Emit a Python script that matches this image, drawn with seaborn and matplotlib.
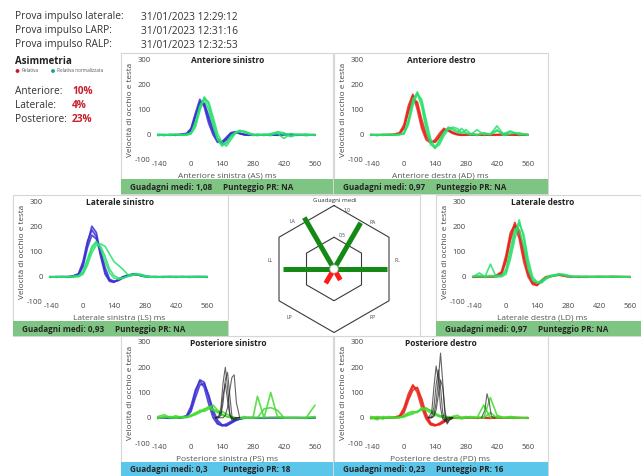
import numpy as np
import pandas as pd
import matplotlib.pyplot as plt
import seaborn as sns
from matplotlib.patches import Rectangle, Circle

sns.set_theme(style="white")
plt.rcParams["font.family"] = ["Open Sans", "DejaVu Sans"]
plt.rcParams["axes.unicode_minus"] = False

# time axis (ms) shared by head / eye traces
t_ms = [-150, -120, -95, -70, -45, -20, 0, 20, 40, 60, 80, 100, 120, 140, 160,
        180, 200, 220, 240, 260, 280, 300, 330, 360, 390, 420, 450, 480, 520, 560]
# time axis (ms) for the saccade spikes
sac_ms = [110, 125, 135, 145, 155, 165, 175, 185, 195, 205, 220]

# Anteriore sinistro
as_head = [
    [0, 0, -2, 0, 0, 2, 15, 70, 130, 120, 60, 10, -25, -30, -15, 5, 10, 5, 0, -2, 0, 0, -2, 0, 0, 0, 0, 0, -2, 0],
    [-2, 0, 0, -2, 2, 5, 25, 85, 140, 110, 45, 0, -30, -28, -10, 8, 12, 5, 0, 0, -2, 0, 0, -2, 0, 2, 0, 0, 0, -2],
    [0, -2, 0, 0, 0, 3, 20, 75, 120, 125, 75, 20, -15, -35, -20, 0, 8, 6, 2, 0, 0, -2, 0, 0, -2, 0, 0, -2, 0, 0],
]
as_eye = [
    [0, -3, 2, 0, -2, 0, 5, 40, 105, 150, 120, 50, -15, -40, -35, -10, 8, 15, 12, 5, 0, -3, 2, 0, 5, -15, 5, 0, -3, 0],
    [-3, 0, 0, 2, 0, -2, 3, 30, 95, 145, 130, 70, 5, -30, -45, -20, 5, 12, 15, 8, 2, 0, -2, 5, 10, 0, -5, 2, 0, -2],
    [2, 0, -2, 0, 0, 2, 8, 50, 115, 140, 100, 35, -20, -45, -30, -5, 10, 18, 10, 3, -2, 2, 0, -3, 12, 8, -8, 0, 2, 0],
]
# Anteriore destro
ad_head = [
    [0, 0, -2, 0, 0, 5, 30, 100, 155, 120, 40, -10, -30, -28, -5, 20, 18, 8, 2, 0, 0, 0, -2, 0, 0, 0, 0, 0, 0, 0],
    [-2, 0, 0, 0, 2, 8, 40, 115, 160, 100, 25, -20, -32, -20, 5, 25, 15, 5, 0, -2, 0, 2, 0, 0, -2, 0, 0, 0, -2, 0],
    [0, -2, 0, 0, 0, 3, 25, 90, 140, 130, 60, 0, -25, -30, -10, 15, 20, 10, 3, 0, -2, 0, 0, -2, 0, 0, 2, 0, 0, 0],
]
ad_eye = [
    [0, -3, 0, 2, 0, 0, 5, 50, 130, 170, 130, 40, -30, -55, -30, 5, 30, 25, 15, 5, 20, 5, 0, 8, 2, 35, 0, 12, 2, 0],
    [-2, 0, 2, 0, -2, 2, 3, 40, 115, 160, 140, 60, -15, -50, -40, -5, 20, 30, 25, 10, 5, 0, 20, 0, 3, 20, -3, 3, 8, -2],
    [2, 0, -2, 0, 2, 0, 8, 60, 140, 165, 110, 20, -40, -50, -20, 10, 28, 20, 8, 25, 8, 2, -2, 5, 0, 15, 5, 15, 0, 2],
]
# Laterale sinistro
ls_head = [
    [0, 0, 0, -2, 2, 10, 50, 130, 200, 175, 90, 20, -15, -20, -12, -2, 5, 8, 10, 5, 2, 0, 0, 0, 0, -2, 0, 0, 0, 0],
    [0, -2, 0, 0, 3, 12, 60, 140, 185, 160, 80, 10, -18, -22, -10, 0, 5, 10, 12, 4, 0, 0, -2, 0, 0, 0, 0, -2, 0, 0],
    [-2, 0, 0, 0, 0, 6, 40, 115, 165, 150, 100, 35, -10, -18, -15, -5, 3, 6, 8, 6, 3, 0, 0, -2, 0, 0, 0, 0, 0, -2],
]
ls_eye = [
    [0, 0, -2, 0, 0, 2, 15, 60, 110, 135, 120, 80, 30, 5, -5, -5, 0, 5, 10, 8, 3, 0, -2, 0, 0, 0, -2, 0, 0, 0],
    [-2, 0, 0, 0, 0, 0, 10, 45, 95, 125, 130, 120, 90, 60, 45, 30, 10, 5, 12, 10, 5, 0, 0, -2, 0, 0, 0, -2, 0, 0],
    [0, -2, 0, 0, 2, 5, 20, 70, 120, 140, 110, 60, 15, -5, -10, -5, 2, 8, 10, 5, 0, -2, 0, 0, 0, -2, 0, 0, 0, 0],
]
# Laterale destro
ld_head = [
    [0, 0, 0, 0, 2, 15, 70, 160, 215, 170, 80, 10, -25, -30, -15, -2, 3, 5, 8, 5, 2, 0, 0, 0, 0, 0, 0, 0, 0, 0],
    [0, 0, -2, 0, 5, 20, 85, 175, 205, 150, 60, 0, -30, -35, -15, 0, 2, 5, 6, 3, 0, 0, 0, -2, 0, 0, 0, 0, 0, 0],
    [-2, 0, 0, 0, 0, 10, 60, 145, 200, 185, 100, 20, -20, -32, -20, -5, 0, 5, 10, 6, 0, 0, -2, 0, 0, 0, 0, 0, 0, -2],
]
ld_eye = [
    [0, 15, 0, 5, 0, 3, 20, 90, 170, 225, 150, 50, -10, -25, -20, -5, 2, 5, 10, 8, 5, 0, 2, 0, -2, 0, 0, 2, 0, 0],
    [0, 5, 0, 50, 0, 0, 10, 70, 150, 210, 170, 70, 0, -20, -25, -10, 0, 3, 8, 10, 5, 2, 0, 0, 0, 2, 0, 0, -2, 0],
    [2, 0, 0, 0, 5, 5, 30, 110, 190, 185, 120, 30, -15, -25, -15, -3, 5, 8, 12, 6, 0, 0, 0, 2, 0, 0, -2, 0, 0, 0],
]
# Posteriore sinistro
ps_head = [
    [0, 0, 0, 0, 0, 5, 35, 100, 150, 140, 80, 15, -20, -32, -30, -20, -10, -5, 0, 0, 0, 0, 0, 0, 0, 0, 0, 0, 0, 0],
    [0, 0, -2, 0, 2, 8, 45, 110, 145, 120, 55, 0, -25, -30, -25, -15, -8, -3, 0, 0, 0, -2, 0, 0, 0, 0, 0, 0, 0, 0],
    [-2, 0, 0, 0, 0, 3, 25, 80, 130, 135, 90, 30, -10, -28, -32, -22, -12, -5, -2, 0, 0, 0, -2, 0, 0, 0, 0, 0, -2, 0],
]
ps_eye = [
    [5, 12, 0, 8, 2, 5, 10, 20, 25, 35, 40, 50, 30, 15, 5, 0, -2, 0, 5, 0, 0, 85, 0, 0, 0, 0, -2, 0, 0, 50],
    [0, 0, 5, 0, 0, 2, 5, 15, 30, 25, 35, 30, 20, 25, 15, 5, 0, 0, -2, 0, 0, 0, 0, 100, 5, 0, 0, 0, 0, 0],
    [-3, 5, 0, -2, 5, 0, 8, 12, 20, 30, 45, 35, 25, 10, 5, 2, 0, -2, 0, 0, 0, 0, 35, 40, 30, 0, 0, 0, 0, 5],
]
ps_sac = [
    [0, 5, 40, 140, 200, 120, 20, -10, -5, 0, 0],
    [0, 0, 10, 60, 150, 180, 90, 5, -10, 0, 0],
    [0, 0, 0, 0, 10, 40, 110, 160, 170, 60, 0],
    [0, 5, 20, 90, 135, 70, 10, -5, 0, 0, 0],
]
# Posteriore destro
pd_head = [
    [0, 0, 0, 0, 0, 5, 30, 80, 125, 115, 60, 5, -25, -30, -25, -15, -5, 0, 0, 0, 0, 0, 0, 0, 0, 0, 0, 0, 0, 0],
    [0, 0, -2, 0, 2, 8, 40, 95, 130, 100, 40, -5, -28, -32, -22, -10, -3, 0, 0, 0, 0, 0, -2, 0, 0, 0, 0, 0, 0, 0],
    [-2, 0, 0, 0, 0, 3, 20, 70, 110, 120, 75, 15, -20, -28, -28, -18, -8, -2, 0, 0, 0, 0, 0, 0, -2, 0, 0, 0, 0, -2],
]
pd_eye = [
    [0, -8, 5, 0, -2, 0, 5, 15, 20, 25, 30, 40, 25, 10, 5, 10, 0, 5, 0, -5, 0, 5, 0, 0, 80, 10, 0, 0, 0, 0],
    [5, 0, -5, 5, 0, 2, 3, 10, 15, 25, 35, 30, 20, 15, 10, 0, 5, 0, -3, 0, 5, 0, 0, 50, 0, 5, 0, 0, 0, -2],
    [-5, 5, 0, 0, 3, 0, 10, 20, 25, 20, 40, 35, 30, 20, 5, 0, -5, 5, 10, 0, 0, 0, 2, 0, 20, 0, 0, 5, 0, 0],
]
pd_sac = [
    [0, 20, 120, 205, 150, 40, -5, -10, 0, 0, 0],
    [0, 5, 40, 130, 190, 120, 20, -15, -5, 0, 0],
    [0, 0, 10, 60, 150, 256, 140, 10, -25, -10, 0],
    [0, 0, 5, 30, 90, 150, 120, 30, -20, -5, 0],
]
pd_late_ms = [350, 365, 375, 385, 395, 410]
pd_late_sac = [0, 30, 95, 60, 5, 0]

# gains for the hexagon plot
radar_axes = ["LA", "RA", "LL", "RL", "LP", "RP"]
radar_angles = [120, 60, 180, 0, 240, 300]
radar_gains = [1.08, 0.97, 0.93, 0.97, 0.30, 0.23]

asym_names = ["Anteriore:", "Laterale:", "Posteriore:"]
asym_values = ["10%", "4%", "23%"]
test_names = ["Prova impulso laterale:", "Prova impulso LARP:", "Prova impulso RALP:"]
test_times = ["31/01/2023 12:29:12", "31/01/2023 12:31:16", "31/01/2023 12:32:53"]

BLUE = "#3a2fd2"
RED = "#ea2119"
GREEN = "#25e06a"
LIME = "#3fdc2c"
GREEN_BAR = "#7ec482"
BLUE_BAR = "#5cc6ea"
TXT = "#333333"

W, H = 641, 476


def rect(x, y, w, h):
    return [x / W, 1 - (y + h) / H, w / W, h / H]


def long_df(t, traces):
    rows = []
    for i, tr in enumerate(traces):
        for tt, vv in zip(t, tr):
            rows.append((tt, vv, i))
    return pd.DataFrame(rows, columns=["t", "v", "trace"])


fig = plt.figure(figsize=(6.41, 4.76), dpi=100)
fig.patch.set_facecolor("white")
bg = fig.add_axes([0, 0, 1, 1])
bg.set_xlim(0, W)
bg.set_ylim(H, 0)
bg.axis("off")

# header
for i, (n, v) in enumerate(zip(test_names, test_times)):
    y = 17 + 14 * i
    bg.text(15, y, n, fontsize=7.3, color=TXT, va="center")
    bg.text(141, y, v, fontsize=7.3, color=TXT, va="center")
bg.text(15, 61, "Asimmetria", fontsize=7, fontweight="bold", color="#222", va="center")
bg.scatter([17.5, 53], [71, 71], s=3, color=["#d0101e", "#16a08f"])
bg.text(21, 71, "Relativa", fontsize=3.3, color="#555", va="center")
bg.text(57, 71, "Relativa normalizzata", fontsize=3.3, color="#555", va="center")
for i, (n, v) in enumerate(zip(asym_names, asym_values)):
    y = 91 + 14 * i
    bg.text(15, y, n, fontsize=7.3, color=TXT, va="center")
    bg.text(72, y, v, fontsize=7.3, color="#c8202a", fontweight="bold", va="center")

panels = [
    dict(title="Anteriore sinistro", xlabel="Anteriore sinistra (AS) ms", card=(121, 53, 212),
         head=as_head, eye=as_eye, hc=BLUE, ec=GREEN, gain="1,08", score="NA", bar=GREEN_BAR),
    dict(title="Anteriore destro", xlabel="Anteriore destra (AD) ms", card=(334, 53, 214),
         head=ad_head, eye=ad_eye, hc=RED, ec=GREEN, gain="0,97", score="NA", bar=GREEN_BAR),
    dict(title="Laterale sinistro", xlabel="Laterale sinistra (LS) ms", card=(13, 195, 215),
         head=ls_head, eye=ls_eye, hc=BLUE, ec=GREEN, gain="0,93", score="NA", bar=GREEN_BAR),
    dict(title="Laterale destro", xlabel="Laterale destra (LD) ms", card=(436, 195, 205),
         head=ld_head, eye=ld_eye, hc=RED, ec=GREEN, gain="0,97", score="NA", bar=GREEN_BAR),
    dict(title="Posteriore sinistro", xlabel="Posteriore sinistra (PS) ms", card=(121, 336, 212),
         head=ps_head, eye=ps_eye, hc=BLUE, ec=LIME, gain="0,3", score="18", bar=BLUE_BAR, sac=ps_sac),
    dict(title="Posteriore destro", xlabel="Posteriore destra (PD) ms", card=(334, 336, 214),
         head=pd_head, eye=pd_eye, hc=RED, ec=LIME, gain="0,23", score="16", bar=BLUE_BAR, sac=pd_sac),
]

for p in panels:
    cx, cy, cw = p["card"]
    bg.add_patch(Rectangle((cx, cy), cw, 141, fc="white", ec="#d6d6d6", lw=0.8, zorder=1))
    bg.add_patch(Rectangle((cx, cy + 126), cw, 15, fc=p["bar"], ec="none", zorder=2))
    bg.text(cx + 9, cy + 134, f"Guadagni medi: {p['gain']}", fontsize=5.9, fontweight="bold",
            color="#262626", va="center", zorder=3)
    bg.text(cx + 102, cy + 134, f"Punteggio PR: {p['score']}", fontsize=5.9, fontweight="bold",
            color="#262626", va="center", zorder=3)

    ax = fig.add_axes(rect(cx + 31.25, cy + 6, 170.5, 101))
    ax.set_facecolor("none")
    sns.lineplot(data=long_df(t_ms, p["head"]), x="t", y="v", units="trace", estimator=None,
                 color=p["hc"], lw=1.3, alpha=0.85, ax=ax)
    sns.lineplot(data=long_df(t_ms, p["eye"]), x="t", y="v", units="trace", estimator=None,
                 color=p["ec"], lw=1.2, alpha=0.85, ax=ax)
    if "sac" in p:
        sns.lineplot(data=long_df(sac_ms, p["sac"]), x="t", y="v", units="trace", estimator=None,
                     color="#222222", lw=0.8, alpha=0.7, ax=ax)
    if p["title"] == "Posteriore destro":
        sns.lineplot(x=pd_late_ms, y=pd_late_sac, color="#222222", lw=0.8, alpha=0.7, ax=ax)

    ax.set_xlim(-175, 595)
    ax.set_ylim(-100, 300)
    ax.set_xticks([-140, 0, 140, 280, 420, 560])
    ax.set_yticks([-100, 0, 100, 200, 300])
    ax.tick_params(length=0, labelsize=5.5, colors="#444444", pad=1)
    sns.despine(ax=ax, left=True, bottom=True)
    ax.set_xlabel(p["xlabel"], fontsize=6.0, color="#555555")
    ax.xaxis.set_label_coords(0.44, -0.12)
    ax.set_ylabel("Velocità di occhio e testa", fontsize=5.9, color="#444444")
    ax.yaxis.set_label_coords(-0.105, 0.5)
    ax.text(0.444, 0.99, p["title"], transform=ax.transAxes, ha="center", va="center",
            fontsize=6.0, fontweight="bold", color="#222222")

# hexagon gain plot
bg.add_patch(Rectangle((228, 195), 192, 141, fc="white", ec="#d6d6d6", lw=0.8, zorder=1))
rax = fig.add_axes(rect(259, 194, 150, 150))
rax.set_facecolor("none")
lim = 75 / 55
rax.set_xlim(-lim, lim)
rax.set_ylim(-lim, lim)
rax.axis("off")
hex_ang = np.deg2rad([90, 30, -30, -90, -150, 150, 90])
for a in [1.0, 0.5]:
    r = a / np.cos(np.deg2rad(30))
    rax.plot(r * np.cos(hex_ang), r * np.sin(hex_ang), color="#3a3a3a", lw=0.8)
for name, ang, g in zip(radar_axes, radar_angles, radar_gains):
    th = np.deg2rad(ang)
    col = "#148a14" if g >= 0.7 else "#ff1a1a"
    sns.lineplot(x=[0, g * np.cos(th)], y=[0, g * np.sin(th)], color=col, lw=3.6,
                 solid_capstyle="butt", sort=False, ax=rax)
rax.add_patch(Circle((0, 0), 0.075, fc="white", ec="#bbbbbb", lw=0.5, zorder=5))
label_pos = {"LA": (-0.76, 0.87), "RA": (0.71, 0.85), "LL": (-1.16, 0.15), "RL": (1.16, 0.15),
             "LP": (-0.82, -0.89), "RP": (0.71, -0.89)}
for name in radar_axes:
    x, y = label_pos[name]
    rax.text(x, y, name, fontsize=3.6, color="#444444", ha="center", va="center")
rax.text(0.24, 1.07, "1,0", fontsize=3.6, color="#444444", ha="center", va="center")
rax.text(0.15, 0.62, "0,5", fontsize=3.6, color="#444444", ha="center", va="center")
rax.text(0.02, 1.25, "Guadagni medi", fontsize=4.4, color="#333333", ha="center", va="center")

fig.savefig("out.png", dpi=100, facecolor="white")
